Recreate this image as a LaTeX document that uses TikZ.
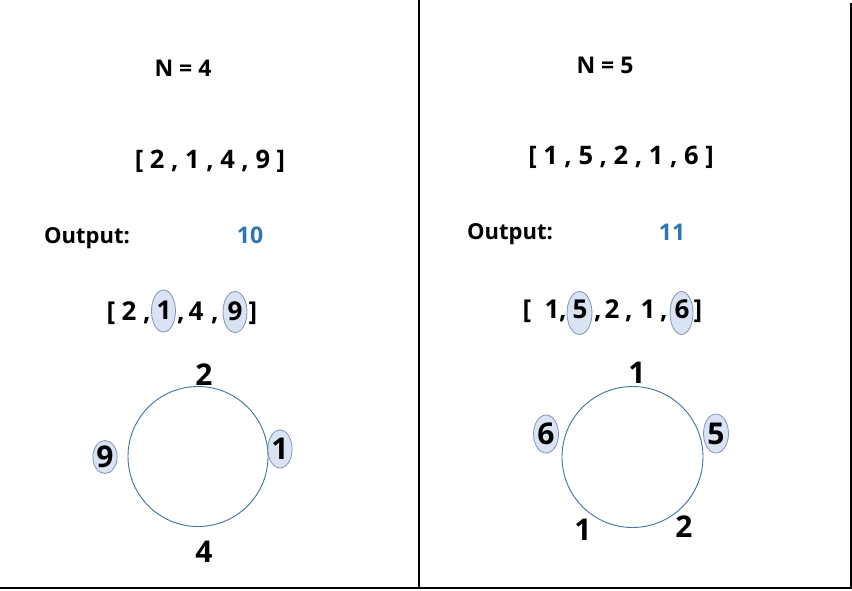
\documentclass[tikz,border=0pt]{standalone}
\usepackage{fontspec}
\setmainfont{Open Sans}
\usetikzlibrary{shapes.geometric}
\definecolor{circ}{HTML}{41719C}
\definecolor{efill}{HTML}{DAE3F3}
\definecolor{eline}{HTML}{7F95B5}
\definecolor{outblue}{HTML}{2E75B6}
\begin{document}
\begin{tikzpicture}[x=1pt,y=-1pt,
  txt/.style={inner sep=0pt, anchor=base, font=\fontsize{#1}{#1}\selectfont\bfseries},
  ell/.style={ellipse, draw=eline, fill=efill, line width=0.8pt, inner sep=0pt,
    font=\fontsize{#1}{#1}\selectfont\bfseries},
  ring/.style={circle, draw=circ, line width=0.9pt, inner sep=0pt},
  frame/.style={line width=1.4pt, black}]
\useasboundingbox (0,0) rectangle (852,590);
% frame lines
\coordinate (bl) at (0,588);
\coordinate (br) at (851,588);
\coordinate (tr) at (851,3);
\coordinate (dt) at (419,0);
\coordinate (db) at (419,588);
\draw[frame] (bl) -- (br) -- (tr);
\draw[frame] (dt) -- (db);

% ---------------- left panel
\node[txt=23] (nL) at (183,76) {N = 4};
\node[txt=25.5] (arrL) at (210,168) {[ 2 , 1 , 4 , 9 ]};
\node[txt=22, anchor=base west] (outL) at (44,243) {Output:};
\node[txt=23, text=outblue] (valL) at (250,243) {10};

\node[txt=26] (lb1) at (111,320) {[};
\node[txt=26] (l2) at (129,320) {2};
\node[txt=26] (lc1) at (147,320) {,};
\node[ell=26, minimum width=24pt, minimum height=42pt] (e1) at (163.5,311) {};
\node[txt=26] (l1) at (164,319) {1};
\node[txt=26] (lc2) at (181,320) {,};
\node[txt=26] (l4) at (196,320) {4};
\node[txt=26] (lc3) at (215,320) {,};
\node[ell=26, minimum width=24pt, minimum height=41pt] (e9) at (235,312) {};
\node[txt=26] (l9) at (235,320) {9};
\node[txt=26] (lb2) at (253,320) {]};

\node[ring, minimum size=140pt] (cL) at (198,456.5) {};
\node[txt=30] (cLt) at (204,385) {2};
\node[txt=30] (cLb) at (204,562) {4};
\node[ell=30, minimum width=24pt, minimum height=38pt] (cLr) at (280,449) {1};
\node[ell=30, minimum width=24pt, minimum height=33pt] (cLl) at (105,457) {9};

% ---------------- right panel
\node[txt=23] (nR) at (605,73) {N = 5};
\node[txt=25.5] (arrR) at (621,164) {[ 1 , 5 , 2 , 1 , 6 ]};
\node[txt=22, anchor=base west] (outR) at (467,239) {Output:};
\node[txt=23, text=outblue] (valR) at (672,240) {11};

\node[txt=26] (rb1) at (527,318) {[};
\node[txt=26] (r1) at (552,318) {1};
\node[txt=26] (rc1) at (563,318) {,};
\node[ell=26, minimum width=25pt, minimum height=43pt] (e5) at (579.5,313) {};
\node[txt=26] (r5) at (580,318) {5};
\node[txt=26] (rc2) at (598,318) {,};
\node[txt=26] (r2) at (612,318) {2};
\node[txt=26] (rc3) at (629,318) {,};
\node[txt=26] (r1b) at (648,318) {1};
\node[txt=26] (rc4) at (664,318) {,};
\node[ell=26, minimum width=23pt, minimum height=43pt] (e6) at (681.5,313) {};
\node[txt=26] (r6) at (682,318) {6};
\node[txt=26] (rb2) at (698,318) {]};

\node[ring, minimum size=141pt] (cR) at (632.5,457) {};
\node[txt=30] (cRt) at (637,383) {1};
\node[txt=30] (cRbl) at (583,540) {1};
\node[txt=30] (cRbr) at (684,537) {2};
\node[ell=30, minimum width=25pt, minimum height=38pt] (cRl) at (546,434) {6};
\node[ell=30, minimum width=25pt, minimum height=39pt] (cRr) at (716,433.5) {5};
\end{tikzpicture}
\end{document}
